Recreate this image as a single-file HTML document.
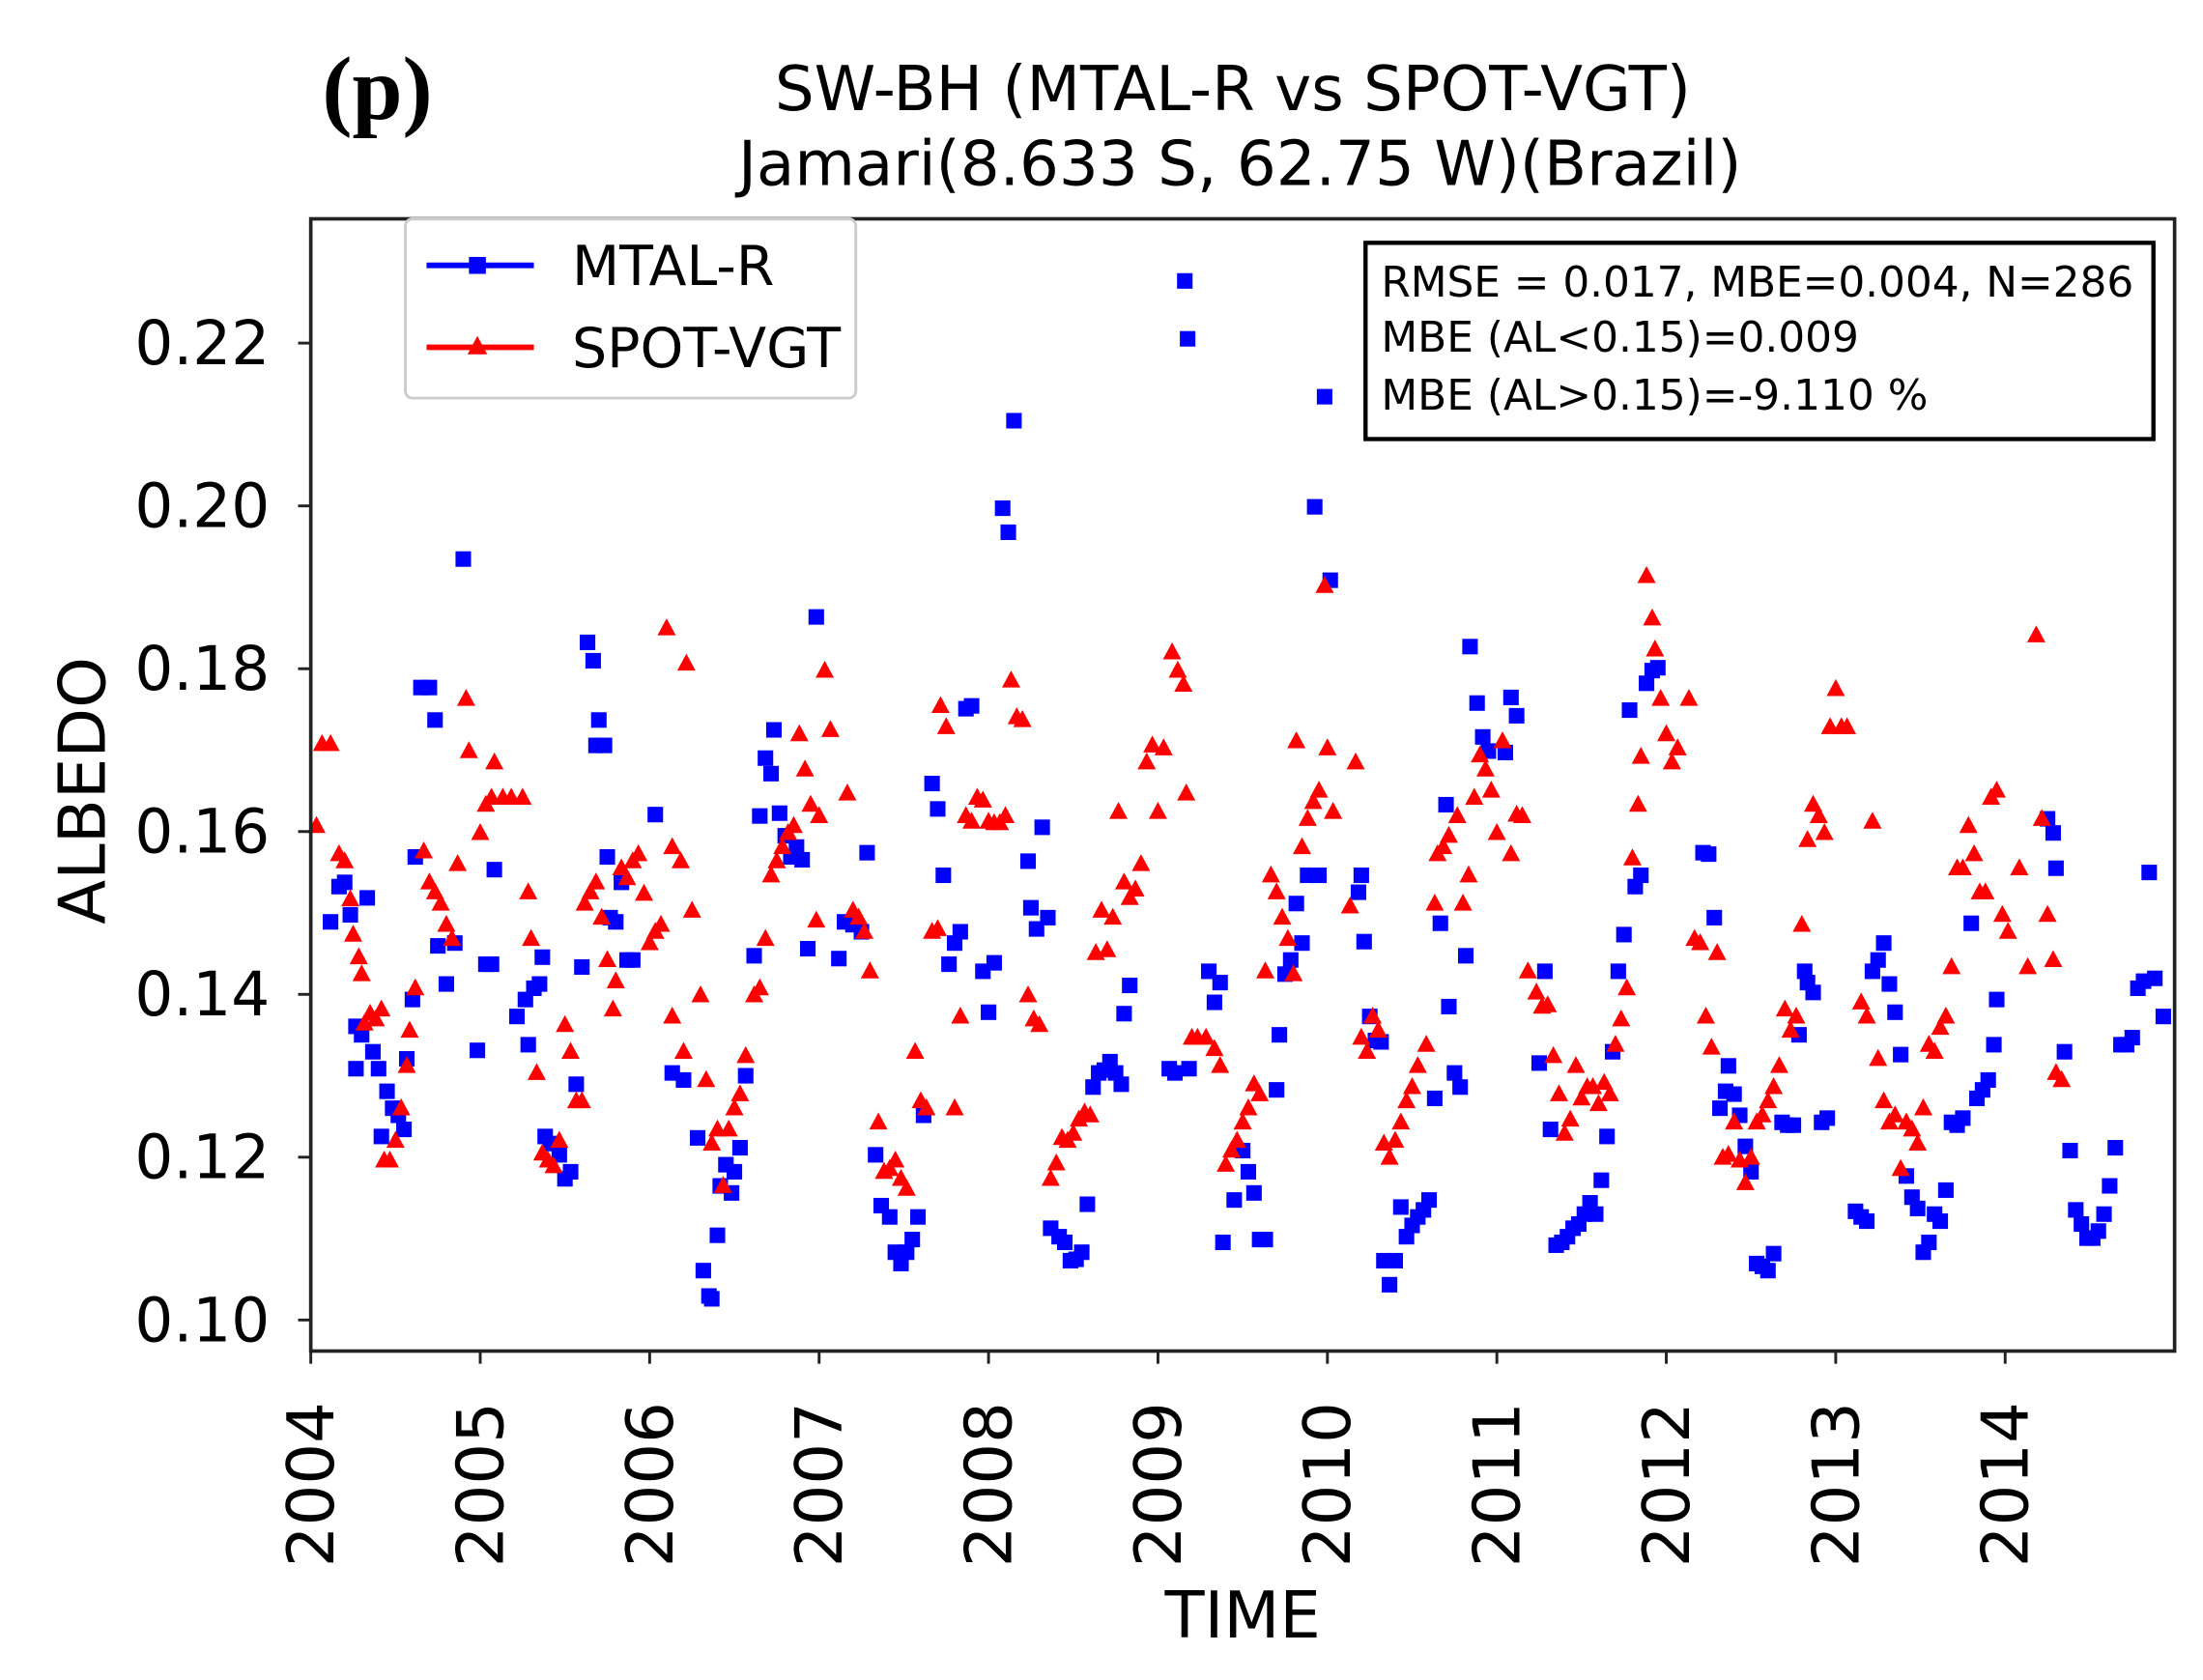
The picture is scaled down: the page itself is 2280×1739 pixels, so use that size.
<!DOCTYPE html>
<html><head><meta charset="utf-8"><style>
html,body{margin:0;padding:0;background:#fff;}
svg{display:block;}
text{font-family:"DejaVu Sans","Liberation Sans",sans-serif;}
</style></head><body>
<svg id="s" width="2280" height="1739" viewBox="0 0 1560 1190" xmlns="http://www.w3.org/2000/svg">
<rect width="1560" height="1190" fill="#fff"/>
<text x="228" y="84" font-weight="bold" font-size="64" style="font-family:'Liberation Serif',serif">(p)</text>
<text x="873" y="78" font-size="44" text-anchor="middle">SW-BH (MTAL-R vs SPOT-VGT)</text>
<text x="878" y="131" font-size="44" text-anchor="middle">Jamari(8.633 S, 62.75 W)(Brazil)</text>
<g id="pts"></g>
<rect x="220" y="155" width="1320" height="802" fill="none" stroke="#222" stroke-width="2.5"/>
<g id="ticks" font-size="43"></g>
<text transform="translate(74,560) rotate(-90)" font-size="46" text-anchor="middle">ALBEDO</text>
<text x="880" y="1160" font-size="46" text-anchor="middle">TIME</text>
<rect x="287" y="155" width="319" height="127" rx="5" fill="#fff" fill-opacity="0.85" stroke="#ccc" stroke-width="2"/>
<line x1="302" y1="188" x2="378" y2="188" stroke="#00f" stroke-width="4"/>
<rect x="332" y="182" width="12" height="12" fill="#00f"/>
<line x1="302" y1="246" x2="378" y2="246" stroke="#f00" stroke-width="4"/>
<polygon points="338,238 345,251 331,251" fill="#f00"/>
<text x="405" y="202" font-size="39">MTAL-R</text>
<text x="405" y="260" font-size="39">SPOT-VGT</text>
<rect x="967" y="172" width="558" height="139" fill="#fff" stroke="#000" stroke-width="3"/>
<text x="978" y="210" font-size="30" textLength="533">RMSE = 0.017,  MBE=0.004, N=286</text>
<text x="978" y="249" font-size="30">MBE (AL&lt;0.15)=0.009</text>
<text x="978" y="290" font-size="30">MBE (AL&gt;0.15)=-9.110 %</text>
</svg>
<script>
var NS="http://www.w3.org/2000/svg";
var B=[[234,653],[240,628],[244,625],[248,648],[252,727],[252,757],[256,733],[260,636],[264,745],[268,757],[270,805],[274,773],[278,785],[282,790],[286,800],[288,750],[292,708],[294,607],[298,487],[304,487],[308,510],[310,670],[316,697],[322,668],[328,396],[338,744],[344,683],[348,683],[350,616],[366,720],[372,708],[374,740],[378,700],[382,697],[384,678],[386,805],[390,810],[396,818],[400,835],[404,830],[408,768],[412,685],[416,455],[420,468],[422,528],[424,510],[428,528],[430,607],[432,650],[436,653],[440,625],[444,680],[448,680],[464,577],[476,760],[484,765],[494,806],[498,900],[502,918],[504,920],[508,875],[510,840],[514,825],[518,845],[520,830],[524,813],[528,762],[534,677],[538,578],[542,537],[546,548],[548,517],[552,576],[556,592],[560,607],[564,600],[568,609],[572,672],[578,437],[594,679],[598,653],[604,655],[610,660],[614,604],[620,818],[624,854],[630,862],[634,887],[638,895],[642,887],[646,878],[650,862],[654,790],[660,555],[664,573],[668,620],[672,683],[676,668],[680,660],[684,502],[688,500],[696,688],[700,717],[704,682],[710,360],[714,377],[718,298],[728,610],[730,643],[734,658],[738,586],[742,650],[744,870],[750,876],[754,880],[758,893],[762,892],[766,887],[770,853],[774,770],[778,760],[782,758],[786,752],[790,760],[794,768],[796,718],[800,698],[828,757],[832,760],[839,199],[841,240],[842,757],[856,688],[860,710],[864,696],[866,880],[874,850],[880,815],[884,830],[888,845],[892,878],[896,878],[904,772],[906,733],[910,690],[914,680],[918,640],[922,668],[926,620],[931,359],[934,620],[938,281],[942,411],[962,632],[964,620],[966,667],[970,720],[974,737],[978,738],[980,893],[984,910],[988,893],[992,855],[996,876],[1000,868],[1004,862],[1008,857],[1012,850],[1016,778],[1020,654],[1024,570],[1026,713],[1030,760],[1034,770],[1038,677],[1041,458],[1046,498],[1050,522],[1054,532],[1066,533],[1070,494],[1074,507],[1090,753],[1094,688],[1098,800],[1102,882],[1106,880],[1110,876],[1114,870],[1118,867],[1122,860],[1126,852],[1130,860],[1134,836],[1138,805],[1142,745],[1146,688],[1150,662],[1154,503],[1158,628],[1162,620],[1166,484],[1170,475],[1174,473],[1206,604],[1210,605],[1214,650],[1218,785],[1222,773],[1224,755],[1228,775],[1232,790],[1236,812],[1240,830],[1244,895],[1248,897],[1252,900],[1256,888],[1262,795],[1266,797],[1270,797],[1274,733],[1278,688],[1280,696],[1284,703],[1290,795],[1294,792],[1314,858],[1318,862],[1322,865],[1326,688],[1330,680],[1334,668],[1338,697],[1342,717],[1346,747],[1350,833],[1354,848],[1358,856],[1362,887],[1366,880],[1370,860],[1374,865],[1378,843],[1382,795],[1386,797],[1390,792],[1396,654],[1400,778],[1404,772],[1408,765],[1412,740],[1414,708],[1450,580],[1454,590],[1456,615],[1462,745],[1466,815],[1470,857],[1474,867],[1478,877],[1482,877],[1486,872],[1490,860],[1494,840],[1498,813],[1502,740],[1506,740],[1510,735],[1514,700],[1518,695],[1522,618],[1526,693],[1532,720]];
var R=[[224,585],[228,527],[234,527],[240,605],[244,610],[248,637],[250,662],[254,678],[256,690],[258,725],[262,718],[266,722],[270,715],[272,822],[276,822],[280,808],[284,785],[288,755],[290,730],[294,700],[300,603],[304,625],[308,632],[312,640],[316,655],[320,665],[324,612],[330,495],[332,532],[340,590],[344,570],[348,565],[350,540],[356,565],[362,565],[370,565],[374,632],[376,665],[380,760],[384,817],[388,822],[392,826],[396,808],[400,726],[404,745],[408,780],[412,780],[414,640],[418,632],[422,625],[426,650],[430,680],[434,715],[436,695],[440,615],[444,622],[448,610],[452,605],[456,633],[460,668],[464,660],[468,655],[472,445],[476,600],[482,610],[486,470],[490,645],[476,720],[484,745],[496,705],[500,765],[504,810],[508,800],[512,840],[516,800],[520,785],[524,775],[528,748],[534,705],[538,700],[542,665],[546,620],[550,610],[554,600],[558,590],[562,585],[566,520],[570,545],[574,570],[580,578],[584,475],[588,517],[578,652],[600,562],[604,645],[608,650],[612,660],[616,688],[622,795],[626,830],[630,828],[634,822],[638,835],[642,842],[648,745],[652,780],[656,785],[660,660],[664,658],[666,500],[670,515],[676,785],[680,720],[684,578],[688,582],[692,565],[696,567],[700,582],[704,583],[708,583],[712,578],[716,482],[720,508],[724,510],[728,705],[732,722],[736,726],[744,835],[748,824],[752,806],[756,808],[760,803],[764,793],[768,788],[772,790],[776,675],[780,645],[784,673],[788,650],[792,575],[796,625],[800,636],[804,630],[808,612],[812,540],[816,528],[820,575],[824,530],[830,462],[834,475],[838,485],[840,562],[844,735],[848,735],[854,735],[860,743],[864,755],[868,825],[872,815],[876,808],[880,795],[884,785],[888,768],[892,775],[896,688],[900,620],[904,632],[908,650],[912,665],[916,690],[918,525],[922,600],[926,580],[930,568],[934,560],[938,415],[940,530],[944,575],[956,642],[960,540],[964,735],[968,745],[972,720],[976,730],[980,810],[984,820],[988,808],[992,795],[996,780],[1000,770],[1004,755],[1010,740],[1016,640],[1018,605],[1022,600],[1026,592],[1032,578],[1036,640],[1040,620],[1044,565],[1048,535],[1052,545],[1056,560],[1060,590],[1064,525],[1070,605],[1074,577],[1078,578],[1082,688],[1088,703],[1092,713],[1096,712],[1100,748],[1104,775],[1108,803],[1112,793],[1116,755],[1120,778],[1124,770],[1128,770],[1132,782],[1136,767],[1140,775],[1144,740],[1148,722],[1152,700],[1156,608],[1160,570],[1162,536],[1166,408],[1170,438],[1172,460],[1176,495],[1180,520],[1184,540],[1188,530],[1196,495],[1200,665],[1204,668],[1208,720],[1212,742],[1216,675],[1220,820],[1224,818],[1228,795],[1232,822],[1236,838],[1240,820],[1244,795],[1248,790],[1252,780],[1256,770],[1260,755],[1264,715],[1268,730],[1272,720],[1276,655],[1280,595],[1284,570],[1288,578],[1292,590],[1296,515],[1300,488],[1304,515],[1308,515],[1318,710],[1322,720],[1326,582],[1330,750],[1334,780],[1338,795],[1342,790],[1346,828],[1350,795],[1354,800],[1358,810],[1362,785],[1366,740],[1370,745],[1374,728],[1378,720],[1382,685],[1386,615],[1390,615],[1394,585],[1398,605],[1402,632],[1406,632],[1410,565],[1414,560],[1418,648],[1422,660],[1430,615],[1436,685],[1442,450],[1446,580],[1450,648],[1454,680],[1456,760],[1460,765]];
var g=document.getElementById('pts');
B.forEach(function(p){var r=document.createElementNS(NS,'rect');r.setAttribute('x',p[0]-5.5);r.setAttribute('y',p[1]-5.5);r.setAttribute('width',11);r.setAttribute('height',11);r.setAttribute('fill','#00f');g.appendChild(r);});
R.forEach(function(p){var t=document.createElementNS(NS,'polygon');var x=p[0],y=p[1];t.setAttribute('points',x+','+(y-7)+' '+(x+6.5)+','+(y+5)+' '+(x-6.5)+','+(y+5));t.setAttribute('fill','#f00');g.appendChild(t);});
var tk=document.getElementById('ticks');
function add(tag,attrs,txt){var e=document.createElementNS(NS,tag);for(var k in attrs)e.setAttribute(k,attrs[k]);if(txt)e.textContent=txt;tk.appendChild(e);}
var yl=['0.10','0.12','0.14','0.16','0.18','0.20','0.22'];
for(var i=0;i<7;i++){var y=935-i*115.33;add('line',{x1:211,y1:y,x2:220,y2:y,stroke:'#222','stroke-width':2});add('text',{x:191,y:y+15,'text-anchor':'end'},yl[i]);}
for(var j=0;j<11;j++){var x=220+j*120;add('line',{x1:x,y1:957,x2:x,y2:966,stroke:'#222','stroke-width':2});add('text',{transform:'translate('+(x+16)+',993) rotate(-90)','text-anchor':'end','font-size':46},String(2004+j));}
</script>
</body></html>
